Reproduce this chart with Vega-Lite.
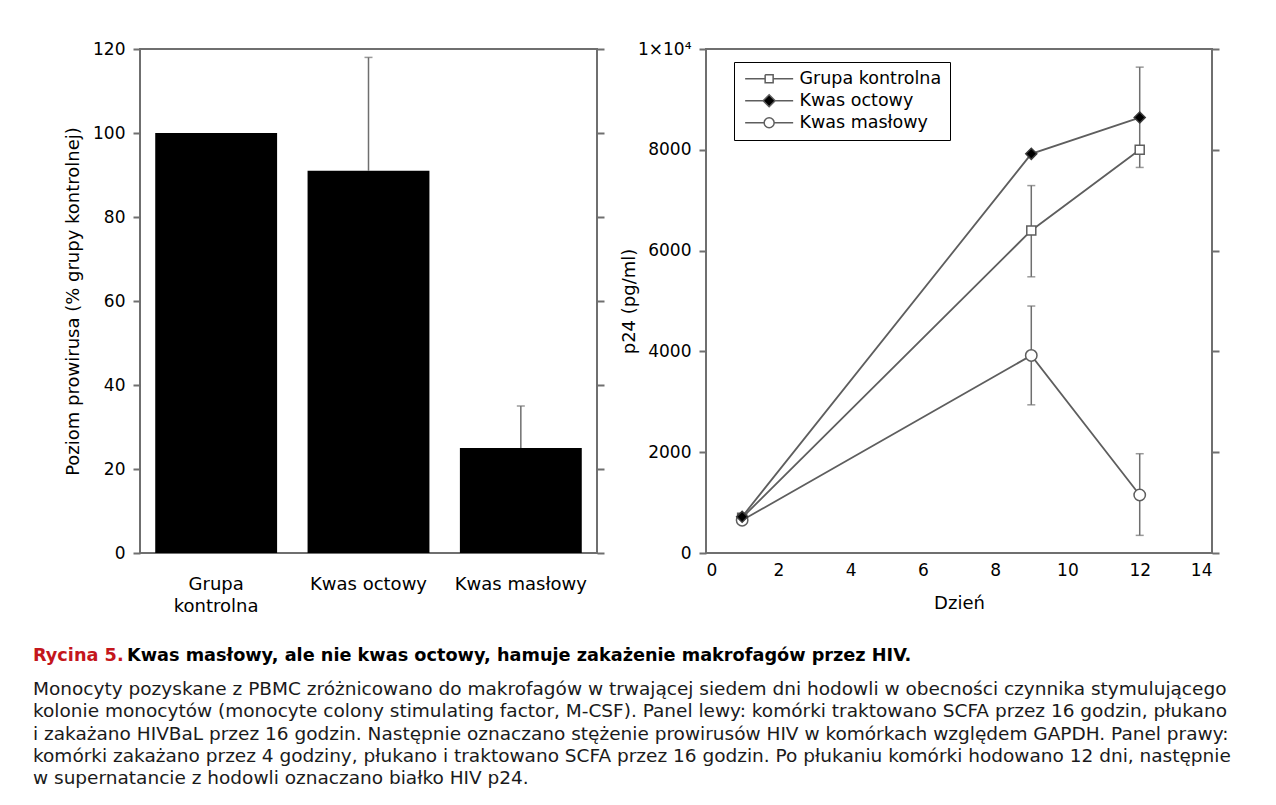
{
  "$schema": "https://vega.github.io/schema/vega-lite/v6.json",
  "background": "white",
  "padding": {"left": 33, "top": 39, "right": 10, "bottom": 10},
  "config": {
    "font": "DejaVu Sans",
    "view": {"stroke": "#6f6f6f", "strokeWidth": 2},
    "axis": {"grid": false, "domain": false, "tickColor": "#6f6f6f", "tickWidth": 2, "tickSize": 7, "labelFont": "DejaVu Sans", "labelFontSize": 17, "labelColor": "black", "titleFont": "DejaVu Sans", "titleFontSize": 18, "titleFontWeight": "normal", "titleColor": "black", "labelPadding": 8}
  },
  "spacing": 31,
  "resolve": {"scale": {"shape": "independent"}},
  "vconcat": [
    {
      "spacing": 0,
      "resolve": {"scale": {"shape": "independent"}},
      "hconcat": [
        {
          "width": 30, "height": 10,
          "view": {"stroke": null, "fill": "white"},
          "data": {"values": []},
          "mark": "point"
        },
        {
          "spacing": 13,
          "resolve": {"scale": {"shape": "independent"}},
          "hconcat": [
            {
              "width": 457, "height": 504,
              "data": {"values": [
                {"grupa": "Grupa kontrolna", "poziom": 100, "gorny": null},
                {"grupa": "Kwas octowy", "poziom": 91, "gorny": 118},
                {"grupa": "Kwas masłowy", "poziom": 25, "gorny": 35}
              ]},
              "encoding": {"x": {"field": "grupa", "type": "nominal", "sort": null, "scale": {"paddingInner": 0.2, "paddingOuter": 0.1}, "axis": {"title": null, "labelAngle": 0, "ticks": false, "labelPadding": 22, "labelFontSize": 18, "labelLineHeight": 22, "labelExpr": "datum.label == 'Grupa kontrolna' ? ['Grupa', 'kontrolna'] : datum.label"}}},
              "layer": [
                {"mark": {"type": "bar", "color": "black"},
                 "encoding": {"y": {"field": "poziom", "type": "quantitative", "scale": {"domain": [0, 120], "nice": false}, "axis": {"title": "Poziom prowirusa (% grupy kontrolnej)", "values": [0, 20, 40, 60, 80, 100, 120], "titlePadding": 10}}}},
                {"transform": [{"filter": "datum.gorny != null"}],
                 "mark": {"type": "rule", "color": "#6f6f6f", "strokeWidth": 1.5},
                 "encoding": {"y": {"field": "poziom", "type": "quantitative", "axis": {"orient": "right", "labels": false, "title": null, "values": [0, 20, 40, 60, 80, 100, 120]}}, "y2": {"field": "gorny"}}},
                {"transform": [{"filter": "datum.gorny != null"}],
                 "mark": {"type": "tick", "orient": "horizontal", "color": "#6f6f6f", "size": 8, "thickness": 1.5},
                 "encoding": {"y": {"field": "gorny", "type": "quantitative", "axis": null}}}
              ],
              "resolve": {"axis": {"y": "independent"}}
            },
            {
              "width": 506, "height": 504,
              "data": {"values": [
                {"seria": "Grupa kontrolna", "dzien": 1, "p24": 700, "dol": null, "gora": null},
                {"seria": "Grupa kontrolna", "dzien": 9, "p24": 6400, "dol": 5480, "gora": 7290},
                {"seria": "Grupa kontrolna", "dzien": 12, "p24": 8000, "dol": null, "gora": null},
                {"seria": "Kwas octowy", "dzien": 1, "p24": 720, "dol": null, "gora": null},
                {"seria": "Kwas octowy", "dzien": 9, "p24": 7920, "dol": null, "gora": null},
                {"seria": "Kwas octowy", "dzien": 12, "p24": 8640, "dol": 7650, "gora": 9640},
                {"seria": "Kwas masłowy", "dzien": 1, "p24": 650, "dol": null, "gora": null},
                {"seria": "Kwas masłowy", "dzien": 9, "p24": 3920, "dol": 2940, "gora": 4900},
                {"seria": "Kwas masłowy", "dzien": 12, "p24": 1150, "dol": 350, "gora": 1970}
              ]},
              "encoding": {"x": {"field": "dzien", "type": "quantitative", "scale": {"domain": [0, 14], "nice": false}, "axis": {"title": "Dzień", "values": [0, 2, 4, 6, 8, 10, 12, 14], "ticks": false, "labelPadding": 9, "titlePadding": 16}}},
              "layer": [
                {"mark": {"type": "line", "color": "#5e5e5e", "strokeWidth": 1.8},
                 "encoding": {"y": {"field": "p24", "type": "quantitative", "scale": {"domain": [0, 10000], "nice": false}, "axis": {"title": "p24 (pg/ml)", "values": [0, 2000, 4000, 6000, 8000, 10000], "labelExpr": "datum.value == 10000 ? '1×10⁴' : format(datum.value, 'd')", "titleX": -67.5}}, "detail": {"field": "seria"}}},
                {"transform": [{"filter": "datum.gora != null"}],
                 "mark": {"type": "rule", "color": "#6f6f6f", "strokeWidth": 1.5},
                 "encoding": {"y": {"field": "dol", "type": "quantitative", "axis": {"orient": "right", "labels": false, "title": null, "values": [0, 2000, 4000, 6000, 8000, 10000]}}, "y2": {"field": "gora"}}},
                {"transform": [{"filter": "datum.gora != null"}],
                 "mark": {"type": "tick", "orient": "horizontal", "color": "#6f6f6f", "size": 8, "thickness": 1.5},
                 "encoding": {"y": {"field": "dol", "type": "quantitative", "axis": null}}},
                {"transform": [{"filter": "datum.gora != null"}],
                 "mark": {"type": "tick", "orient": "horizontal", "color": "#6f6f6f", "size": 8, "thickness": 1.5},
                 "encoding": {"y": {"field": "gora", "type": "quantitative", "axis": null}}},
                {"transform": [{"filter": "datum.seria == 'Grupa kontrolna'"}],
                 "mark": {"type": "point", "shape": "square", "size": 81, "filled": true, "fill": "white", "stroke": "#5e5e5e", "strokeWidth": 1.5, "opacity": 1},
                 "encoding": {"y": {"field": "p24", "type": "quantitative", "axis": null}}},
                {"transform": [{"filter": "datum.seria == 'Kwas masłowy'"}],
                 "mark": {"type": "point", "shape": "circle", "size": 130, "filled": true, "fill": "white", "stroke": "#5e5e5e", "strokeWidth": 1.5, "opacity": 1},
                 "encoding": {"y": {"field": "p24", "type": "quantitative", "axis": null}}},
                {"transform": [{"filter": "datum.seria == 'Kwas octowy'"}],
                 "mark": {"type": "point", "shape": "diamond", "size": 121, "filled": true, "fill": "black", "stroke": "#3a3a3a", "strokeWidth": 1.5, "opacity": 1},
                 "encoding": {"y": {"field": "p24", "type": "quantitative", "axis": null}}},
                {"transform": [{"filter": "false"}],
                 "mark": {"type": "point", "filled": false, "color": "#5e5e5e", "fill": "black", "strokeWidth": 1.5, "opacity": 1},
                 "encoding": {
                   "y": {"field": "p24", "type": "quantitative", "axis": null},
                   "shape": {"field": "seria", "type": "nominal",
                     "scale": {"domain": ["Grupa kontrolna", "Kwas octowy", "Kwas masłowy"],
                       "range": [
                         "M-1.4,0H3.6M5.6,0H10.6M3.6,-1H5.6V1H3.6V-1V1H5.6V-1H3.6",
                         "M-1.4,0H3.1M6.1,0H10.6M3.1,0L4.6,-1.5L6.1,0L4.6,1.5Z",
                         "M-1.4,0H3.35M5.85,0H10.6M5.85,0A1.25,1.25 0 1 1 3.35,0A1.25,1.25 0 1 1 5.85,0A1.25,1.25 0 1 0 3.35,0A1.25,1.25 0 1 0 5.85,0"
                       ]},
                     "legend": {"title": null, "orient": "none", "legendX": 28, "legendY": 13, "strokeColor": "black", "fillColor": "white", "padding": 8, "labelFontSize": 17.5, "labelFont": "DejaVu Sans", "labelColor": "black", "symbolSize": 64, "symbolStrokeWidth": 1.5, "labelOffset": 40, "rowPadding": 3, "cornerRadius": 0}}
                 }}
              ],
              "resolve": {"axis": {"y": "independent"}}
            }
          ]
        }
      ]
    },
    {
      "width": 1200, "height": 111,
      "view": {"stroke": null},
      "data": {"values": [
        {"wiersz": 0, "czesc": "nr", "tekst": "Rycina 5."},
        {"wiersz": 0, "czesc": "naglowek", "tekst": "Kwas masłowy, ale nie kwas octowy, hamuje zakażenie makrofagów przez HIV."},
        {"wiersz": 1, "czesc": "opis", "tekst": "Monocyty pozyskane z PBMC zróżnicowano do makrofagów w trwającej siedem dni hodowli w obecności czynnika stymulującego"},
        {"wiersz": 2, "czesc": "opis", "tekst": "kolonie monocytów (monocyte colony stimulating factor, M-CSF). Panel lewy: komórki traktowano SCFA przez 16 godzin, płukano"},
        {"wiersz": 3, "czesc": "opis", "tekst": "i zakażano HIVBaL przez 16 godzin. Następnie oznaczano stężenie prowirusów HIV w komórkach względem GAPDH. Panel prawy:"},
        {"wiersz": 4, "czesc": "opis", "tekst": "komórki zakażano przez 4 godziny, płukano i traktowano SCFA przez 16 godzin. Po płukaniu komórki hodowano 12 dni, następnie"},
        {"wiersz": 5, "czesc": "opis", "tekst": "w supernatancie z hodowli oznaczano białko HIV p24."}
      ]},
      "encoding": {
        "y": {"field": "wiersz", "type": "quantitative", "scale": {"domain": [0, 5], "reverse": true}, "axis": null},
        "x": {"value": 0},
        "text": {"field": "tekst"}
      },
      "layer": [
        {"transform": [{"filter": "datum.czesc == 'opis'"}], "mark": {"type": "text", "align": "left", "baseline": "middle", "fontSize": 18.5, "color": "#1a1a1a"}},
        {"transform": [{"filter": "datum.czesc == 'nr'"}], "mark": {"type": "text", "align": "left", "baseline": "middle", "fontSize": 17.7, "fontWeight": "bold", "color": "#c4161c", "dy": -11}},
        {"transform": [{"filter": "datum.czesc == 'naglowek'"}], "mark": {"type": "text", "align": "left", "baseline": "middle", "fontSize": 17.7, "fontWeight": "bold", "color": "black", "dx": 94, "dy": -11}}
      ]
    }
  ]
}
